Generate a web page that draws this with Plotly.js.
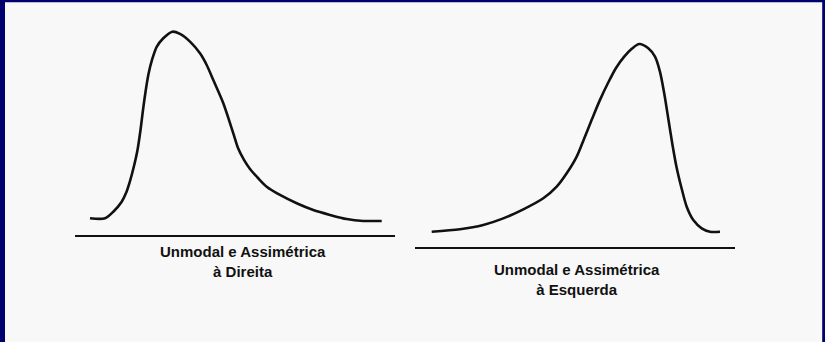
<!DOCTYPE html>
<html>
<head>
<meta charset="utf-8">
<script src="https://cdn.plot.ly/plotly-3.0.1.min.js"></script>
<style>
  html, body { margin: 0; padding: 0; background: #f8f8f8; }
  #chart { width: 825px; height: 342px; }
</style>
</head>
<body>
<div id="chart"></div>
<script>
// Right-skewed curve (long tail to the right): position along the axis and relative frequency (peak = 100)
const rightSkewX = [15, 30, 38.3, 46.7, 51, 55, 59, 62.5, 65.5, 68, 70.5, 73.5, 77, 81.7, 88.3, 97.3,
  105, 115, 125, 131.7, 138.3, 148.3, 158.3, 163, 169, 175, 183, 191.7, 205, 221.7, 238.3, 255, 271.7, 288.3, 306.7];
const rightSkewY = [0.9, 0.9, 4.4, 9.7, 14.3, 20.7, 28.7, 37.2, 47.8, 58.4, 68.0, 77.5, 85.0, 92.0, 96.5, 100,
  98.8, 94.7, 88.5, 82.3, 74.3, 62.0, 46.0, 38.2, 31.9, 27.1, 22.3, 17.7, 13.3, 8.9, 5.3, 2.7, 0.5, -0.5, -0.5];

// Left-skewed curve (long tail to the left)
const leftSkewX = [16.7, 45, 68.3, 88.3, 108.3, 128.3, 141.7, 151.7, 161.7, 169, 177, 185, 193, 201, 209, 216.5,
  224.3, 233.3, 240, 245, 249.5, 253.5, 257.5, 261.5, 266.5, 271.7, 278.3, 286.7, 295, 305];
const leftSkewY = [0, 1.3, 3.6, 7.1, 11.9, 17.8, 24.0, 31.1, 40.0, 49.4, 60.0, 70.2, 79.2, 87.2, 93.1, 97.3,
  100, 97.7, 93.2, 85.1, 72.8, 59.5, 46.2, 34.5, 23.3, 13.3, 6.2, 1.8, 0, 0];

// Captions under each curve
const captions = [
  "Unmodal e Assimétrica<br>à Direita",
  "Unmodal e Assimétrica<br>à Esquerda"
];

const W = 825, H = 342;
const navy = "#00006e";
const ink = "#111111";

const curveLine = { color: ink, width: 2.6, shape: "spline", smoothing: 0.8 };

const traces = [
  { x: rightSkewX, y: rightSkewY, xaxis: "x", yaxis: "y", mode: "lines", line: curveLine, hoverinfo: "skip" },
  { x: leftSkewX, y: leftSkewY, xaxis: "x2", yaxis: "y2", mode: "lines", line: curveLine, hoverinfo: "skip" }
];

// Baseline axes: plain lines, no ticks or labels
function baseAxis(domain, anchor) {
  return {
    domain: domain, anchor: anchor, range: [0, 320],
    showline: true, linecolor: ink, linewidth: 2,
    showgrid: false, zeroline: false, showticklabels: false, ticks: "", fixedrange: true
  };
}
function hiddenY(domain, range, anchor) {
  return {
    domain: domain, range: range, anchor: anchor,
    visible: false, showgrid: false, zeroline: false, fixedrange: true
  };
}

const captionFont = { family: "Liberation Sans, Arial, sans-serif", size: 15, color: ink };

const layout = {
  width: W, height: H, autosize: false,
  margin: { l: 0, r: 0, t: 0, b: 0, pad: 0 },
  paper_bgcolor: "#f8f8f8", plot_bgcolor: "rgba(0,0,0,0)",
  showlegend: false,
  xaxis: baseAxis([75 / W, 395 / W], "y"),
  yaxis: hiddenY([(H - 235) / H, (H - 25) / H], [-7.97, 103.56], "x"),
  xaxis2: baseAxis([415 / W, 735 / W], "y2"),
  yaxis2: hiddenY([(H - 247.3) / H, (H - 37) / H], [-8.31, 103.7], "x2"),
  annotations: [
    { text: "<b>" + captions[0] + "</b>", xref: "paper", yref: "paper",
      x: 243 / W, y: (H - 261.5) / H, xanchor: "center", yanchor: "middle",
      showarrow: false, align: "center", font: captionFont },
    { text: "<b>" + captions[1] + "</b>", xref: "paper", yref: "paper",
      x: 577 / W, y: (H - 279.5) / H, xanchor: "center", yanchor: "middle",
      showarrow: false, align: "center", font: captionFont }
  ],
  // Navy frame on the left, top and right edges
  shapes: [
    { type: "rect", xref: "paper", yref: "paper", x0: 0, x1: 5 / W, y0: 0, y1: 1,
      fillcolor: navy, line: { width: 0 } },
    { type: "rect", xref: "paper", yref: "paper", x0: 0, x1: 1, y0: 1 - 2.2 / H, y1: 1,
      fillcolor: navy, line: { width: 0 } },
    { type: "rect", xref: "paper", yref: "paper", x0: 1 - 2.8 / W, x1: 1, y0: 0, y1: 1,
      fillcolor: navy, line: { width: 0 } }
  ]
};

Plotly.newPlot("chart", traces, layout, { staticPlot: true, displayModeBar: false });
</script>
</body>
</html>
